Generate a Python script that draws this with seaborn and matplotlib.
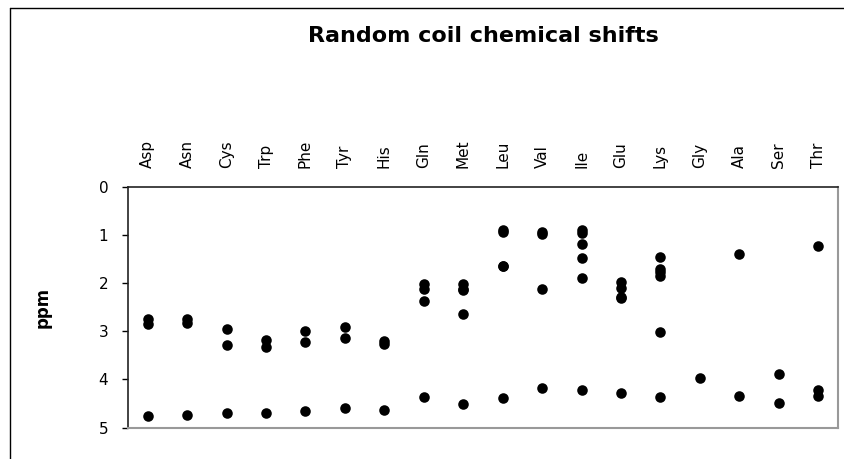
import pandas as pd
import numpy as np
import matplotlib.pyplot as plt
import seaborn as sns

sns.set_theme(style='white')
plt.rcParams['font.family'] = ['DejaVu Sans']
plt.rcParams['text.color'] = 'black'
plt.rcParams['axes.labelcolor'] = 'black'
plt.rcParams['xtick.color'] = 'black'
plt.rcParams['ytick.color'] = 'black'

residues = ['Asp', 'Asn', 'Cys', 'Trp', 'Phe', 'Tyr', 'His', 'Gln', 'Met',
            'Leu', 'Val', 'Ile', 'Glu', 'Lys', 'Gly', 'Ala', 'Ser', 'Thr']

# alpha protons
h_alpha = [4.76, 4.75, 4.69, 4.70, 4.66, 4.60, 4.63, 4.37, 4.52,
           4.38, 4.18, 4.23, 4.29, 4.36, 3.97, 4.35, 4.50, 4.35]

# side chain protons
side_chain = [
    [2.84, 2.75],
    [2.83, 2.75],
    [3.28, 2.96],
    [3.32, 3.19],
    [3.22, 2.99],
    [3.13, 2.92],
    [3.26, 3.20],
    [2.13, 2.01, 2.38],
    [2.15, 2.01, 2.64, 2.13],
    [1.65, 1.64, 0.94, 0.90],
    [2.13, 0.97, 0.94],
    [1.90, 1.48, 1.19, 0.95, 0.89],
    [2.09, 1.97, 2.31, 2.28],
    [1.85, 1.76, 1.45, 1.70, 3.02],
    [],
    [1.39],
    [3.88],
    [4.22, 1.23],
]

rows = []
for res, ha, sc in zip(residues, h_alpha, side_chain):
    rows.append((res, ha))
    for v in sc:
        rows.append((res, v))
df = pd.DataFrame(rows, columns=['residue', 'ppm'])

fig = plt.figure(figsize=(8.45, 4.59), dpi=100)
ax = fig.add_axes([128/845, 1 - 427.5/459, 710/845, (427.5 - 187)/459])

sns.stripplot(data=df, x='residue', y='ppm', order=residues, jitter=False,
              color='black', size=7.6, linewidth=0, ax=ax)

ax.set_xlim(-0.5, len(residues) - 0.5)
ax.set_ylim(5, 0)
ax.set_yticks([0, 1, 2, 3, 4, 5])
ax.set_xlabel('')

ax.xaxis.tick_top()
ax.tick_params(axis='x', length=0, pad=14, labelsize=11, rotation=90)
ax.tick_params(axis='y', left=True, length=4.3, width=1, color='black',
               direction='out', pad=10, labelsize=11)

ax.set_ylabel('ppm', fontsize=12, fontweight='bold')
ax.yaxis.set_label_coords(-0.108, 0.5)

for s in ['left', 'top']:
    ax.spines[s].set_color('#222222')
    ax.spines[s].set_linewidth(1.2)
for s in ['right', 'bottom']:
    ax.spines[s].set_color('#999999')
    ax.spines[s].set_linewidth(1.5)

fig.text(483/845, 1 - 41.7/459, 'Random coil chemical shifts', ha='center',
         va='baseline', fontsize=16, fontweight='bold')

# chart area border (only left and top visible)
fig.add_artist(plt.Line2D([10/845, 10/845], [0, 1 - 8.3/459],
                          transform=fig.transFigure, color='black', lw=1))
fig.add_artist(plt.Line2D([10/845, 1], [1 - 8.3/459, 1 - 8.3/459],
                          transform=fig.transFigure, color='black', lw=1))

fig.savefig('out.png', dpi=100)
